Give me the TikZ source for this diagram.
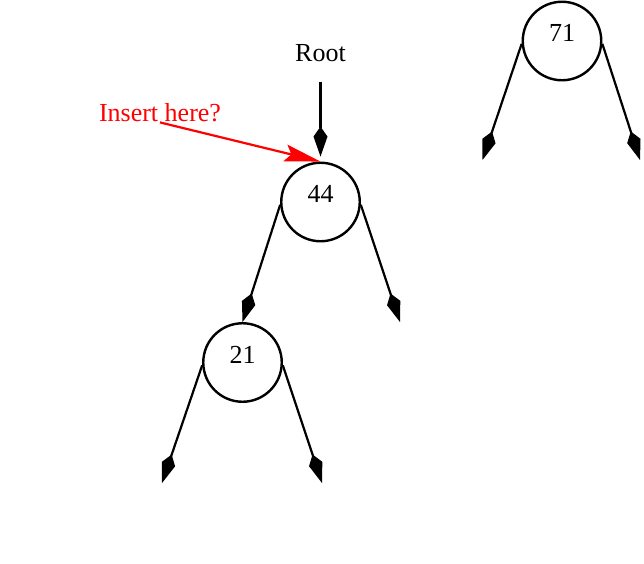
\documentclass[tikz,border=0pt]{standalone}
\usepackage{fontspec}
\setmainfont{Liberation Serif}
\usetikzlibrary{arrows.meta}
\begin{document}
\begin{tikzpicture}[x=1pt,y=-1pt,
  every node/.style={font=\fontsize{26}{30}\selectfont, inner sep=0pt},
  treenode/.style={circle, draw, line width=2.4pt, minimum size=78.5pt},
  numlbl/.style={label={[yshift=8pt]center:#1}},
  kitearrow/.style={line width=2.2pt, -{Kite[length=30pt,width=14pt,inset=10pt]}},
  redarrow/.style={red, line width=2.2pt, -{Stealth[length=36pt,width=17pt,inset=6pt]}}]
\useasboundingbox (0,0) rectangle (644,563);
% nodes
\node (root) at (320.5,53.5) {Root};
\node[red] (ins) at (160,113) {Insert here?};
\node[treenode, numlbl=44] (n44) at (320.5,202) {};
\node[treenode, numlbl=21] (n21) at (242.5,362.5) {};
\node[treenode, numlbl=71] (n71) at (562,41) {};
% free ends
\coordinate (rootstart) at (320.5,82);
\coordinate (e44r) at (400,322);
\coordinate (e21l) at (162,483);
\coordinate (e21r) at (322,483);
\coordinate (e71l) at (482.5,160);
\coordinate (e71r) at (640,160);
% connectors
\draw[kitearrow, shorten >=5pt] (rootstart) -- (n44.north);
\draw[redarrow] (ins.south) -- (n44.north);
\draw[kitearrow] (n44.184) -- (n21.north);
\draw[kitearrow] (n44.-4) -- (e44r);
\draw[kitearrow] (n21.184) -- (e21l);
\draw[kitearrow] (n21.-4) -- (e21r);
\draw[kitearrow] (n71.184) -- (e71l);
\draw[kitearrow] (n71.-4) -- (e71r);
\end{tikzpicture}
\end{document}
